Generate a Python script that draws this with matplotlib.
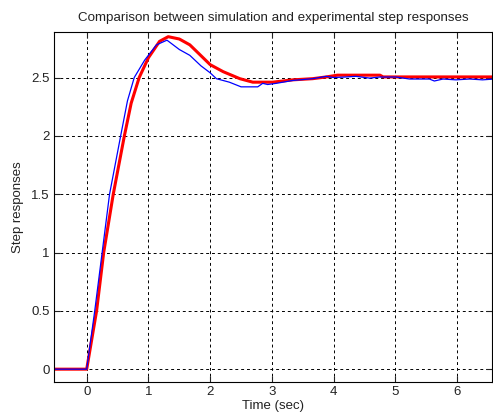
import matplotlib
matplotlib.use("Agg")
import matplotlib.pyplot as plt

# simulated step response (red, thick)
t_sim = [-0.6, 0.0, 0.16, 0.275, 0.43, 0.61, 0.72, 0.85, 1.0, 1.18, 1.32, 1.5, 1.67,
         2.0, 2.21, 2.48, 2.69, 3.01, 3.34, 3.66, 3.88, 4.06, 4.75, 4.8, 6.6]
y_sim = [0, 0, 0.5, 1.0, 1.5, 2.0, 2.28, 2.5, 2.67, 2.81, 2.85, 2.83, 2.78,
         2.61, 2.55, 2.49, 2.46, 2.46, 2.48, 2.49, 2.505, 2.52, 2.52, 2.505, 2.505]

# experimental step response (blue, thin)
t_exp = [-0.6, 0.0, 0.13, 0.25, 0.37, 0.55, 0.66, 0.77, 0.94, 1.13, 1.30, 1.5, 1.67,
         1.85, 2.0, 2.1, 2.31, 2.50, 2.77, 2.85, 2.93, 3.07, 3.34, 3.66, 3.88,
         4.0, 4.18, 4.36, 4.58, 4.74, 5.01, 5.23, 5.34, 5.55, 5.63, 5.77, 5.98,
         6.20, 6.41, 6.6]
y_exp = [0, 0, 0.5, 1.0, 1.5, 2.0, 2.3, 2.5, 2.65, 2.78, 2.82, 2.74, 2.69,
         2.6, 2.54, 2.49, 2.46, 2.42, 2.42, 2.45, 2.44, 2.45, 2.475, 2.49, 2.51,
         2.50, 2.504, 2.51, 2.495, 2.504, 2.504, 2.487, 2.487, 2.487, 2.47, 2.487, 2.48,
         2.487, 2.48, 2.487]

x_ticks = [0, 1, 2, 3, 4, 5, 6]
y_ticks = [0, 0.5, 1, 1.5, 2, 2.5]

plt.rcParams['font.family'] = ['Liberation Sans', 'DejaVu Sans']
plt.rcParams['font.size'] = 9.5

fig = plt.figure(figsize=(4.93, 4.19), dpi=100)
ax = fig.add_axes([0.1095, 0.0883, 0.888, 0.8353])

ax.plot(t_sim, y_sim, color='#ff0000', linewidth=2.2)
ax.plot(t_exp, y_exp, color='#0000ff', linewidth=0.9)

ax.set_xlim(-0.53, 6.56)
ax.set_ylim(-0.11, 2.89)
ax.set_xticks(x_ticks)
ax.set_xticklabels([str(v) for v in x_ticks])
ax.set_yticks(y_ticks)
ax.set_yticklabels(['0', '0.5', '1', '1.5', '2', '2.5'])

ax.grid(True, color='black', linestyle=(0, (3, 3)), linewidth=0.7)
ax.tick_params(direction='in', length=4, top=True, right=True, width=0.8,
               colors='#222222', pad=3)
for s in ax.spines.values():
    s.set_linewidth(0.8)

ax.set_title('Comparison between simulation and experimental step responses',
             fontsize=9.6, pad=8, color='#222222')
ax.set_xlabel('Time (sec)', labelpad=1, color='#222222')
ax.set_ylabel('Step responses', labelpad=5, color='#222222')

fig.savefig('out.png', dpi=100)
